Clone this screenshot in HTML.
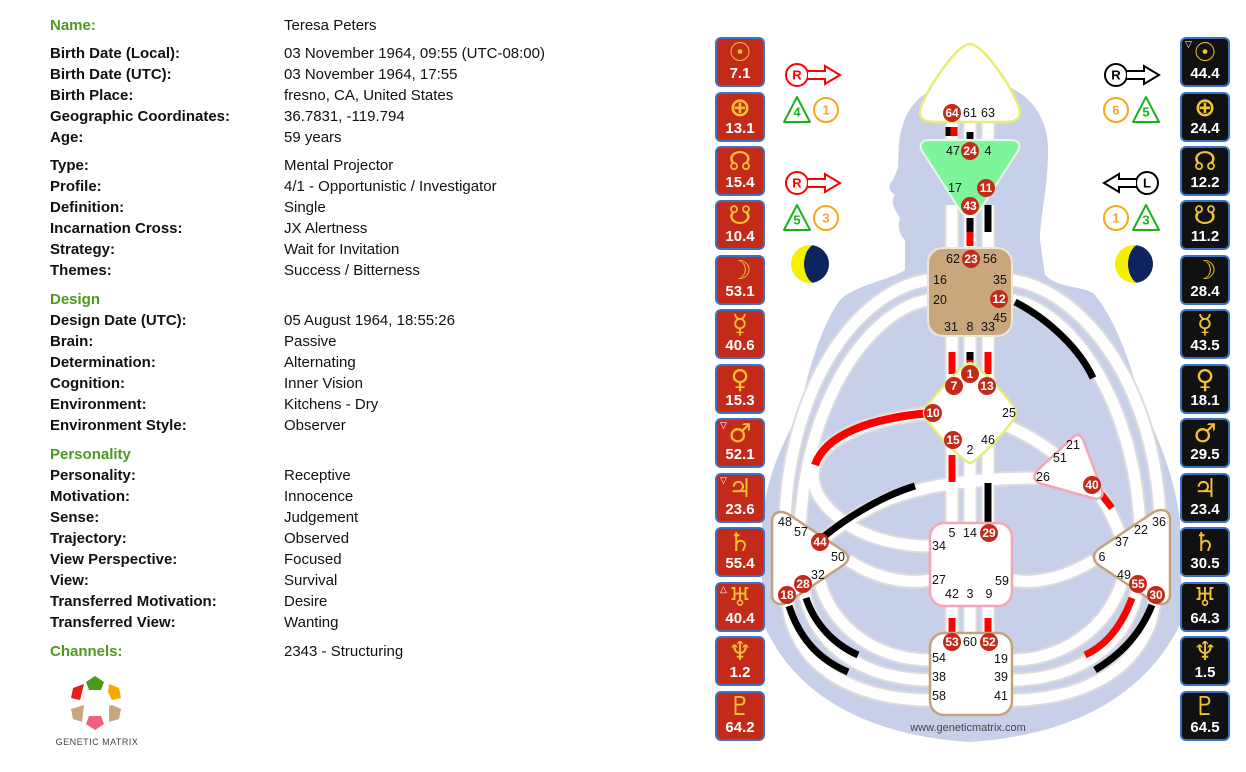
<!DOCTYPE html>
<html><head><meta charset="utf-8"><style>
body{margin:0;width:1246px;height:772px;background:#fff;overflow:hidden;position:relative;font-family:"Liberation Sans",sans-serif}
.t{position:absolute;font-size:15px;color:#111;line-height:18px;white-space:nowrap}
.l{left:50px;font-weight:bold}
.v{left:284px}
.g{color:#4e9a1e;font-weight:bold}
.pb{position:absolute;width:46px;height:46px;border:2px solid #3b72c4;border-radius:6px;text-align:center;color:#fff;font-weight:bold}
.pb.r{background:#c42a1a}.pb.k{background:#111}
.pb .s{display:block;font-family:"DejaVu Sans",sans-serif;color:#f2c232;font-size:26px;line-height:26px;margin-top:1px;font-weight:bold}
.pb .n{display:block;font-size:15px;line-height:16px}
.pb .m{position:absolute;left:3px;top:0;font-size:9px;color:#fff;font-weight:normal}
</style></head><body>
<div class="t l g" style="top:17px">Name:</div><div class="t v" style="top:17px">Teresa Peters</div>
<div class="t l" style="top:45px">Birth Date (Local):</div><div class="t v" style="top:45px">03 November 1964, 09:55 (UTC-08:00)</div>
<div class="t l" style="top:66px">Birth Date (UTC):</div><div class="t v" style="top:66px">03 November 1964, 17:55</div>
<div class="t l" style="top:87px">Birth Place:</div><div class="t v" style="top:87px">fresno, CA, United States</div>
<div class="t l" style="top:108px">Geographic Coordinates:</div><div class="t v" style="top:108px">36.7831, -119.794</div>
<div class="t l" style="top:129px">Age:</div><div class="t v" style="top:129px">59 years</div>
<div class="t l" style="top:157px">Type:</div><div class="t v" style="top:157px">Mental Projector</div>
<div class="t l" style="top:178px">Profile:</div><div class="t v" style="top:178px">4/1 - Opportunistic / Investigator</div>
<div class="t l" style="top:199px">Definition:</div><div class="t v" style="top:199px">Single</div>
<div class="t l" style="top:220px">Incarnation Cross:</div><div class="t v" style="top:220px">JX Alertness</div>
<div class="t l" style="top:241px">Strategy:</div><div class="t v" style="top:241px">Wait for Invitation</div>
<div class="t l" style="top:262px">Themes:</div><div class="t v" style="top:262px">Success / Bitterness</div>
<div class="t l g" style="top:291px">Design</div>
<div class="t l" style="top:312px">Design Date (UTC):</div><div class="t v" style="top:312px">05 August 1964, 18:55:26</div>
<div class="t l" style="top:333px">Brain:</div><div class="t v" style="top:333px">Passive</div>
<div class="t l" style="top:354px">Determination:</div><div class="t v" style="top:354px">Alternating</div>
<div class="t l" style="top:375px">Cognition:</div><div class="t v" style="top:375px">Inner Vision</div>
<div class="t l" style="top:396px">Environment:</div><div class="t v" style="top:396px">Kitchens - Dry</div>
<div class="t l" style="top:417px">Environment Style:</div><div class="t v" style="top:417px">Observer</div>
<div class="t l g" style="top:446px">Personality</div>
<div class="t l" style="top:467px">Personality:</div><div class="t v" style="top:467px">Receptive</div>
<div class="t l" style="top:488px">Motivation:</div><div class="t v" style="top:488px">Innocence</div>
<div class="t l" style="top:509px">Sense:</div><div class="t v" style="top:509px">Judgement</div>
<div class="t l" style="top:530px">Trajectory:</div><div class="t v" style="top:530px">Observed</div>
<div class="t l" style="top:551px">View Perspective:</div><div class="t v" style="top:551px">Focused</div>
<div class="t l" style="top:572px">View:</div><div class="t v" style="top:572px">Survival</div>
<div class="t l" style="top:593px">Transferred Motivation:</div><div class="t v" style="top:593px">Desire</div>
<div class="t l" style="top:614px">Transferred View:</div><div class="t v" style="top:614px">Wanting</div>
<div class="t l g" style="top:643px">Channels:</div><div class="t v" style="top:643px">2343 - Structuring</div>

<svg style="position:absolute;left:0;top:0" width="1246" height="772">
<g>
<polygon points="86,682 95,676 104,682 101,690 89,690" fill="#4a9a1e"/>
<polygon points="109,684 119,688 121,698 112,700 108,692" fill="#f2a900"/>
<polygon points="109,706 112,705 121,709 119,719 109,722" fill="#c9a77c"/>
<polygon points="89,716 101,716 104,724 95,730 86,724" fill="#f06080"/>
<polygon points="81,706 84,705 82,722 73,719 71,709" fill="#c9a77c"/>
<polygon points="84,684 82,692 80,700 71,698 73,688" fill="#e81c1c"/>
<text x="97" y="745" font-size="9" fill="#444" text-anchor="middle" font-family="Liberation Sans" letter-spacing="0.5">GENETIC MATRIX</text>
</g>
<path d="M975 80 C1015 80 1048 105 1048 150 C1048 190 1040 215 1040 240 L1045 275 C1060 290 1085 285 1095 295 C1115 320 1130 360 1140 400 C1160 440 1175 480 1180 520 L1182 620 C1150 690 1080 735 970 742 C860 735 790 690 762 620 L762 520 C768 470 785 440 800 410 C810 360 825 320 840 300 C855 285 890 280 905 270 L905 240 C900 236 897 228 900 218 C894 208 890 202 895 195 C888 190 888 185 893 180 L898 168 C899 150 898 140 902 128 C910 95 940 80 975 80 Z" fill="#c8cfe9"/>
<g fill="none" stroke-linecap="butt">
<g stroke="#dcdcdc" stroke-width="15">
<path d="M952 115V150M970 115V150M988 115V150M952 205V255M970 205V255M988 205V255M952 330V385M970 330V385M988 330V385M952 440V528M970 440V528M988 440V528M952 600V640M970 600V640M988 600V640"/>
<path d="M928 280 C860 290 790 380 785 520"/>
<path d="M928 300 C870 310 805 400 800 530"/>
<path d="M930 413 C820 425 790 470 830 510 C860 540 900 546 932 546"/>
<path d="M1012 280 C1080 290 1155 380 1160 520"/>
<path d="M1012 300 C1070 310 1135 400 1140 528"/>
<path d="M1005 425 C1030 435 1050 450 1060 458"/>
<path d="M820 542 C870 500 920 478 1040 478"/>
<path d="M930 580 C900 585 870 575 848 560"/>
<path d="M1012 580 C1040 585 1070 575 1094 560"/>
<path d="M1092 485 C1105 500 1115 520 1122 540"/>
<path d="M787 594 C790 670 860 700 930 700"/>
<path d="M803 583 C810 650 870 680 930 680"/>
<path d="M818 575 C830 630 880 660 930 660"/>
<path d="M1156 594 C1150 670 1080 700 1012 700"/>
<path d="M1138 584 C1130 650 1070 680 1012 680"/>
<path d="M1124 575 C1110 630 1060 660 1012 660"/>
</g>
<g stroke="#fff" stroke-width="11">
<path d="M952 115V150M970 115V150M988 115V150M952 205V255M970 205V255M988 205V255M952 330V385M970 330V385M988 330V385M952 440V528M970 440V528M988 440V528M952 600V640M970 600V640M988 600V640"/>
<path d="M928 280 C860 290 790 380 785 520"/>
<path d="M928 300 C870 310 805 400 800 530"/>
<path d="M930 413 C820 425 790 470 830 510 C860 540 900 546 932 546"/>
<path d="M1012 280 C1080 290 1155 380 1160 520"/>
<path d="M1012 300 C1070 310 1135 400 1140 528"/>
<path d="M1005 425 C1030 435 1050 450 1060 458"/>
<path d="M820 542 C870 500 920 478 1040 478"/>
<path d="M930 580 C900 585 870 575 848 560"/>
<path d="M1012 580 C1040 585 1070 575 1094 560"/>
<path d="M1092 485 C1105 500 1115 520 1122 540"/>
<path d="M787 594 C790 670 860 700 930 700"/>
<path d="M803 583 C810 650 870 680 930 680"/>
<path d="M818 575 C830 630 880 660 930 660"/>
<path d="M1156 594 C1150 670 1080 700 1012 700"/>
<path d="M1138 584 C1130 650 1070 680 1012 680"/>
<path d="M1124 575 C1110 630 1060 660 1012 660"/>
</g>
<g stroke-width="7">
<path d="M949 127V136" stroke="#000"/><path d="M954 127V136" stroke="#f00"/>
<path d="M970 132V140" stroke="#000"/>
<path d="M970 218V232" stroke="#000"/><path d="M970 232V246" stroke="#f00"/>
<path d="M988 205V232" stroke="#000"/>
<path d="M952 352V374" stroke="#f00"/><path d="M988 352V374" stroke="#f00"/>
<path d="M970 352V360" stroke="#000"/><path d="M970 360V366" stroke="#f00"/>
<path d="M952 455V482" stroke="#f00"/><path d="M988 483V522" stroke="#000"/>
<path d="M952 618V632" stroke="#f00"/><path d="M988 618V632" stroke="#f00"/>
<path d="M930 413 C870 418 825 435 815 465" stroke="#f00" stroke-width="8"/>
<path d="M822 538 C850 515 885 495 915 486" stroke="#000"/>
<path d="M1015 302 C1050 320 1080 350 1093 378" stroke="#000"/>
<path d="M1098 490 L1112 508" stroke="#f00"/>
<path d="M789 606 C800 640 820 660 848 672" stroke="#000"/>
<path d="M806 598 C815 625 835 645 858 655" stroke="#000"/>
<path d="M1132 598 C1122 625 1107 645 1085 655" stroke="#f00"/>
<path d="M1152 605 C1140 635 1120 655 1095 670" stroke="#000"/>
</g>
</g>
<path d="M970 44 C985 44 1020 100 1020 112 C1020 120 1015 122 1005 122 L935 122 C925 122 920 120 920 112 C920 100 955 44 970 44 Z" fill="#fff" stroke="#e8ec78" stroke-width="2.5"/>
<path d="M930 140 L1010 140 C1020 140 1022 146 1016 154 L980 210 C975 218 965 218 960 210 L924 154 C918 146 920 140 930 140 Z" fill="#7ef59a" stroke="#e8f8ea" stroke-width="2"/>
<rect x="928" y="248" width="84" height="88" rx="15" fill="#c9a77c" stroke="#efe6da" stroke-width="2"/>
<path d="M970 363 C976 363 1016 404 1016 413 C1016 422 976 463 970 463 C964 463 924 422 924 413 C924 404 964 363 970 363 Z" fill="#fff" stroke="#e8ec78" stroke-width="2.5"/>
<path d="M1072 438 C1078 432 1082 436 1084 442 L1102 490 C1104 498 1098 500 1092 498 L1042 484 C1034 482 1032 476 1038 470 Z" fill="#fff" stroke="#f5a5b5" stroke-width="2.5"/>
<rect x="930" y="523" width="82" height="83" rx="14" fill="#fff" stroke="#f5a5b5" stroke-width="2.5"/>
<rect x="930" y="633" width="82" height="82" rx="14" fill="#fff" stroke="#c4a27a" stroke-width="2.5"/>
<path d="M772 522 C772 512 780 510 788 514 L842 550 C850 555 850 561 842 566 L788 602 C780 606 772 604 772 594 Z" fill="#fff" stroke="#c4a27a" stroke-width="2.5"/>
<path d="M1170 520 C1170 510 1162 508 1154 512 L1100 548 C1092 553 1092 561 1100 566 L1154 602 C1162 606 1170 604 1170 594 Z" fill="#fff" stroke="#c4a27a" stroke-width="2.5"/>
<g font-family="Liberation Sans" font-size="12.5" fill="#111" text-anchor="middle" dominant-baseline="central">
<text x="970" y="113">61</text><text x="988" y="113">63</text>
<text x="953" y="151">47</text><text x="988" y="151">4</text><text x="955" y="188">17</text>
<text x="953" y="259">62</text><text x="990" y="259">56</text><text x="940" y="280">16</text><text x="1000" y="280">35</text><text x="940" y="300">20</text><text x="1000" y="318">45</text><text x="951" y="327">31</text><text x="970" y="327">8</text><text x="988" y="327">33</text>
<text x="1009" y="413">25</text><text x="988" y="440">46</text><text x="970" y="450">2</text>
<text x="1073" y="445">21</text><text x="1060" y="458">51</text><text x="1043" y="477">26</text>
<text x="952" y="533">5</text><text x="970" y="533">14</text><text x="939" y="546">34</text><text x="939" y="580">27</text><text x="1002" y="581">59</text><text x="952" y="594">42</text><text x="970" y="594">3</text><text x="989" y="594">9</text>
<text x="970" y="642">60</text><text x="939" y="658">54</text><text x="1001" y="659">19</text><text x="939" y="677">38</text><text x="1001" y="677">39</text><text x="939" y="696">58</text><text x="1001" y="696">41</text>
<text x="785" y="522">48</text><text x="801" y="532">57</text><text x="838" y="557">50</text><text x="818" y="575">32</text>
<text x="1159" y="522">36</text><text x="1141" y="530">22</text><text x="1122" y="542">37</text><text x="1102" y="557">6</text><text x="1124" y="575">49</text>
</g>
<g fill="#c42a1a">
<circle cx="952" cy="113" r="9"/><circle cx="970" cy="151" r="9"/><circle cx="986" cy="188" r="9"/><circle cx="970" cy="206" r="9"/><circle cx="971" cy="259" r="9"/><circle cx="999" cy="299" r="9"/><circle cx="970" cy="374" r="9"/><circle cx="954" cy="386" r="9"/><circle cx="987" cy="386" r="9"/><circle cx="933" cy="413" r="9"/><circle cx="953" cy="440" r="9"/><circle cx="1092" cy="485" r="9"/><circle cx="989" cy="533" r="9"/><circle cx="952" cy="642" r="9"/><circle cx="989" cy="642" r="9"/><circle cx="820" cy="542" r="9"/><circle cx="803" cy="584" r="9"/><circle cx="787" cy="595" r="9"/><circle cx="1138" cy="584" r="9"/><circle cx="1156" cy="595" r="9"/>
</g>
<g font-family="Liberation Sans" font-size="12" font-weight="bold" fill="#fff" text-anchor="middle" dominant-baseline="central">
<text x="952" y="113">64</text><text x="970" y="151">24</text><text x="986" y="188">11</text><text x="970" y="206">43</text><text x="971" y="259">23</text><text x="999" y="299">12</text><text x="970" y="374">1</text><text x="954" y="386">7</text><text x="987" y="386">13</text><text x="933" y="413">10</text><text x="953" y="440">15</text><text x="1092" y="485">40</text><text x="989" y="533">29</text><text x="952" y="642">53</text><text x="989" y="642">52</text><text x="820" y="542">44</text><text x="803" y="584">28</text><text x="787" y="595">18</text><text x="1138" y="584">55</text><text x="1156" y="595">30</text>
</g>
<text x="968" y="731" font-family="Liberation Sans" font-size="11" fill="#444" text-anchor="middle">www.geneticmatrix.com</text>
<g font-family="Liberation Sans" font-weight="bold" font-size="13" text-anchor="middle" dominant-baseline="central" stroke-width="2">
<g stroke="#f00" fill="#fff"><circle cx="797" cy="75" r="11"/><path d="M808 71 H825 V66 L840 75 L825 84 V79 H808"/></g><text x="797" y="75" fill="#f00">R</text>
<g stroke="#f00" fill="#fff"><circle cx="797" cy="183" r="11"/><path d="M808 179 H825 V174 L840 183 L825 192 V187 H808"/></g><text x="797" y="183" fill="#f00">R</text>
<g stroke="#000" fill="#fff"><circle cx="1116" cy="75" r="11"/><path d="M1127 71 H1144 V66 L1159 75 L1144 84 V79 H1127"/></g><text x="1116" y="75" fill="#000">R</text>
<g stroke="#000" fill="#fff"><circle cx="1147" cy="183" r="11"/><path d="M1136 179 H1119 V174 L1104 183 L1119 192 V187 H1136"/></g><text x="1147" y="183" fill="#000">L</text>
<path d="M797 97 L810 122 L784 122 Z" fill="#fff" stroke="#1db01d" stroke-linejoin="round"/><text x="797" y="112" fill="#1db01d">4</text>
<circle cx="826" cy="110" r="12" fill="#fff" stroke="#f7a71b"/><text x="826" y="110" fill="#f7a71b">1</text>
<path d="M797 205 L810 230 L784 230 Z" fill="#fff" stroke="#1db01d" stroke-linejoin="round"/><text x="797" y="220" fill="#1db01d">5</text>
<circle cx="826" cy="218" r="12" fill="#fff" stroke="#f7a71b"/><text x="826" y="218" fill="#f7a71b">3</text>
<circle cx="1116" cy="110" r="12" fill="#fff" stroke="#f7a71b"/><text x="1116" y="110" fill="#f7a71b">6</text>
<path d="M1146 97 L1159 122 L1133 122 Z" fill="#fff" stroke="#1db01d" stroke-linejoin="round"/><text x="1146" y="112" fill="#1db01d">5</text>
<circle cx="1116" cy="218" r="12" fill="#fff" stroke="#f7a71b"/><text x="1116" y="218" fill="#f7a71b">1</text>
<path d="M1146 205 L1159 230 L1133 230 Z" fill="#fff" stroke="#1db01d" stroke-linejoin="round"/><text x="1146" y="220" fill="#1db01d">3</text>
</g>
<defs><clipPath id="c1"><circle cx="810" cy="264" r="19"/></clipPath><clipPath id="c2"><circle cx="1134" cy="264" r="19"/></clipPath></defs>
<circle cx="810" cy="264" r="19" fill="#f5f000"/><ellipse cx="819" cy="264" rx="15" ry="21" fill="#0d2461" clip-path="url(#c1)"/>
<circle cx="1134" cy="264" r="19" fill="#f5f000"/><ellipse cx="1143" cy="264" rx="15" ry="21" fill="#0d2461" clip-path="url(#c2)"/>
</svg>

<div class="pb r" style="left:715px;top:37px"><span class="s">☉</span><span class="n">7.1</span></div>
<div class="pb r" style="left:715px;top:92px"><span class="s">⊕</span><span class="n">13.1</span></div>
<div class="pb r" style="left:715px;top:146px"><span class="s">☊</span><span class="n">15.4</span></div>
<div class="pb r" style="left:715px;top:200px"><span class="s">☋</span><span class="n">10.4</span></div>
<div class="pb r" style="left:715px;top:255px"><span class="s">☽</span><span class="n">53.1</span></div>
<div class="pb r" style="left:715px;top:309px"><span class="s">☿</span><span class="n">40.6</span></div>
<div class="pb r" style="left:715px;top:364px"><span class="s">♀</span><span class="n">15.3</span></div>
<div class="pb r" style="left:715px;top:418px"><span class="m">▽</span><span class="s">♂</span><span class="n">52.1</span></div>
<div class="pb r" style="left:715px;top:473px"><span class="m">▽</span><span class="s">♃</span><span class="n">23.6</span></div>
<div class="pb r" style="left:715px;top:527px"><span class="s">♄</span><span class="n">55.4</span></div>
<div class="pb r" style="left:715px;top:582px"><span class="m">△</span><span class="s">♅</span><span class="n">40.4</span></div>
<div class="pb r" style="left:715px;top:636px"><span class="s">♆</span><span class="n">1.2</span></div>
<div class="pb r" style="left:715px;top:691px"><span class="s">♇</span><span class="n">64.2</span></div>

<div class="pb k" style="left:1180px;top:37px"><span class="m">▽</span><span class="s">☉</span><span class="n">44.4</span></div>
<div class="pb k" style="left:1180px;top:92px"><span class="s">⊕</span><span class="n">24.4</span></div>
<div class="pb k" style="left:1180px;top:146px"><span class="s">☊</span><span class="n">12.2</span></div>
<div class="pb k" style="left:1180px;top:200px"><span class="s">☋</span><span class="n">11.2</span></div>
<div class="pb k" style="left:1180px;top:255px"><span class="s">☽</span><span class="n">28.4</span></div>
<div class="pb k" style="left:1180px;top:309px"><span class="s">☿</span><span class="n">43.5</span></div>
<div class="pb k" style="left:1180px;top:364px"><span class="s">♀</span><span class="n">18.1</span></div>
<div class="pb k" style="left:1180px;top:418px"><span class="s">♂</span><span class="n">29.5</span></div>
<div class="pb k" style="left:1180px;top:473px"><span class="s">♃</span><span class="n">23.4</span></div>
<div class="pb k" style="left:1180px;top:527px"><span class="s">♄</span><span class="n">30.5</span></div>
<div class="pb k" style="left:1180px;top:582px"><span class="s">♅</span><span class="n">64.3</span></div>
<div class="pb k" style="left:1180px;top:636px"><span class="s">♆</span><span class="n">1.5</span></div>
<div class="pb k" style="left:1180px;top:691px"><span class="s">♇</span><span class="n">64.5</span></div>
</body></html>
